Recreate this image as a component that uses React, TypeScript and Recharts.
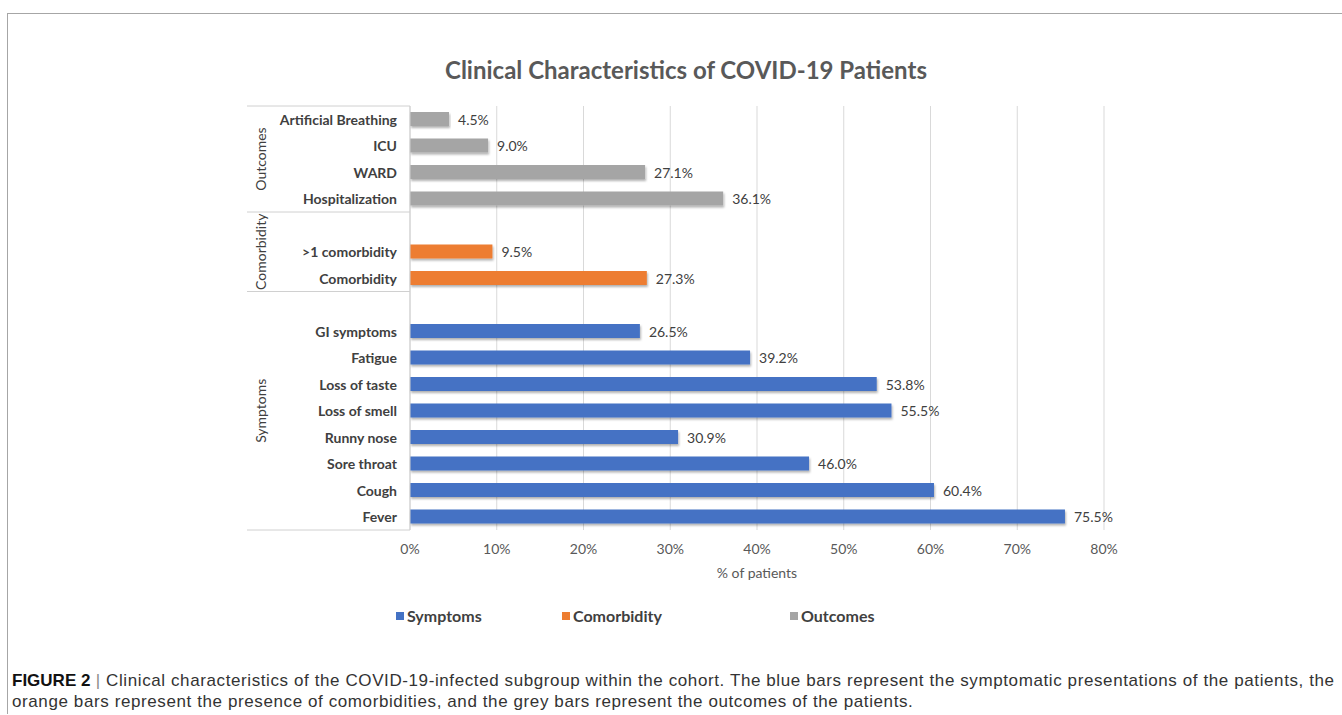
import React from "react";
import { BarChart, Bar, XAxis, YAxis, CartesianGrid, LabelList } from "recharts";

// categories, top to bottom (blank rows separate the groups)
const outcomeNames = ["Artificial Breathing", "ICU", "WARD", "Hospitalization"];
const outcomeValues = [4.5, 9.0, 27.1, 36.1];
const comorbidityNames = [">1 comorbidity", "Comorbidity"];
const comorbidityValues = [9.5, 27.3];
const symptomNames = ["GI symptoms", "Fatigue", "Loss of taste", "Loss of smell", "Runny nose", "Sore throat", "Cough", "Fever"];
const symptomValues = [26.5, 39.2, 53.8, 55.5, 30.9, 46.0, 60.4, 75.5];
const xTicks = [0, 10, 20, 30, 40, 50, 60, 70, 80];

const series = [
  { key: "symptoms", name: "Symptoms", color: "#4472C4" },
  { key: "comorbidity", name: "Comorbidity", color: "#ED7D31" },
  { key: "outcomes", name: "Outcomes", color: "#A5A5A5" },
];

type Row = { name: string; symptoms?: number | null; comorbidity?: number | null; outcomes?: number | null };

const rows: Row[] = [
  ...outcomeNames.map((n, i) => ({ name: n, outcomes: outcomeValues[i] })),
  { name: " " },
  ...comorbidityNames.map((n, i) => ({ name: n, comorbidity: comorbidityValues[i] })),
  { name: "  " },
  ...symptomNames.map((n, i) => ({ name: n, symptoms: symptomValues[i] })),
];

// group spans as row indexes (start..end inclusive)
const groups = [
  { label: "Outcomes", start: 0, end: 3 },
  { label: "Comorbidity", start: 4, end: 6 },
  { label: "Symptoms", start: 7, end: 15 },
];

const W = 1342;
const H = 600;
const M = { top: 106, right: 238, bottom: 20, left: 240 };
const Y_W = 170;
const X_H = 50;
const STEP = (H - M.top - M.bottom - X_H) / rows.length;
const FONT = "Lato, 'Open Sans', sans-serif";
const BOX_LEFT = 247;

const CategoryTick = (props: any) => {
  const { x, y, payload } = props;
  const idx = payload.index;
  const axisX = M.left + Y_W;
  const out: React.ReactNode[] = [];
  out.push(
    <text key="t" x={x} y={y} textAnchor="end" dominantBaseline="central" fontFamily={FONT} fontWeight={700} fontSize={14} fill="#404040">
      {payload.value}
    </text>
  );
  groups.forEach((g) => {
    if (g.start === idx) {
      const top = y - STEP / 2;
      const cy = top + ((g.end - g.start + 1) * STEP) / 2;
      out.push(<line key={"l" + g.label} x1={BOX_LEFT} x2={axisX} y1={top} y2={top} stroke="#d0d0d0" />);
      out.push(
        <text key={"g" + g.label} x={260} y={cy} transform={`rotate(-90 260 ${cy})`} textAnchor="middle" dominantBaseline="central" fontFamily={FONT} fontSize={14} fill="#404040">
          {g.label}
        </text>
      );
    }
    if (g.end === idx && idx === rows.length - 1) {
      const bot = y + STEP / 2;
      out.push(<line key="bottom" x1={BOX_LEFT} x2={axisX} y1={bot} y2={bot} stroke="#d0d0d0" />);
    }
  });
  return <g>{out}</g>;
};

const valueLabel = (props: any) => {
  const { x, y, width, height, value } = props;
  if (value == null) return null;
  return (
    <text x={x + width + 9} y={y + height / 2} dominantBaseline="central" fontFamily={FONT} fontSize={14} fill="#404040">
      {Number(value).toFixed(1)}%
    </text>
  );
};

const legendLeft = [396, 562, 790];

export default function App() {
  return (
    <div style={{ position: "absolute", top: 0, left: 0, width: W, height: 715, background: "#fff", overflow: "hidden" }}>
      <div style={{ position: "absolute", left: 7, top: 13, width: W, height: 700, borderTop: "1px solid #a6a6a6", borderLeft: "1px solid #a6a6a6" }} />
      <div style={{ position: "absolute", top: 55, left: 0, width: 1372, textAlign: "center", fontFamily: FONT, fontWeight: 700, fontSize: 24, color: "#595959" }}>
        Clinical Characteristics of COVID-19 Patients
      </div>
      <div style={{ position: "absolute", top: 0, left: 0 }}>
        <BarChart width={W} height={H} data={rows} layout="vertical" margin={M} barSize={14}>
          <defs>
            <filter id="shadow" x="-5%" y="-50%" width="110%" height="220%">
              <feDropShadow dx="1" dy="2" stdDeviation="1.2" floodColor="#000" floodOpacity="0.3" />
            </filter>
          </defs>
          <CartesianGrid horizontal={false} stroke="#d9d9d9" />
          <XAxis
            type="number"
            domain={[0, 80]}
            ticks={xTicks}
            tickFormatter={(v) => `${v}%`}
            axisLine={false}
            tickLine={false}
            tickMargin={8}
            height={X_H}
            tick={{ fontFamily: FONT, fontSize: 14, fill: "#595959" }}
            label={{ value: "% of patients", position: "insideBottom", offset: 2, fontFamily: FONT, fontSize: 14, fill: "#595959" }}
          />
          <YAxis
            type="category"
            dataKey="name"
            width={Y_W}
            interval={0}
            tickLine={false}
            tickSize={0}
            tickMargin={13}
            axisLine={{ stroke: "#d0d0d0" }}
            tick={<CategoryTick />}
          />
          {series.map((s) => (
            <Bar key={s.key} dataKey={s.key} name={s.name} stackId="g" fill={s.color} filter="url(#shadow)" isAnimationActive={false}>
              <LabelList dataKey={s.key} content={valueLabel} />
            </Bar>
          ))}
        </BarChart>
      </div>
      {series.map((s, i) => (
        <div key={s.key} style={{ position: "absolute", top: 606, left: legendLeft[i], display: "flex", alignItems: "center", fontFamily: FONT, fontWeight: 700, fontSize: 16, color: "#404040" }}>
          <span style={{ display: "inline-block", width: 8, height: 8, background: s.color, marginRight: 3 }} />
          {s.name}
        </div>
      ))}
      <div style={{ position: "absolute", top: 670, left: 12, width: 1330, fontFamily: "'Liberation Sans', Arial, sans-serif", fontSize: 17, letterSpacing: 0.6, lineHeight: "21px", color: "#333", whiteSpace: "nowrap" }}>
        <div>
          <b style={{ color: "#111", letterSpacing: 0 }}>FIGURE 2</b> <span style={{ color: "#888" }}>|</span> Clinical characteristics of the COVID-19-infected subgroup within the cohort. The blue bars represent the symptomatic presentations of the patients, the
        </div>
        <div>orange bars represent the presence of comorbidities, and the grey bars represent the outcomes of the patients.</div>
      </div>
    </div>
  );
}
